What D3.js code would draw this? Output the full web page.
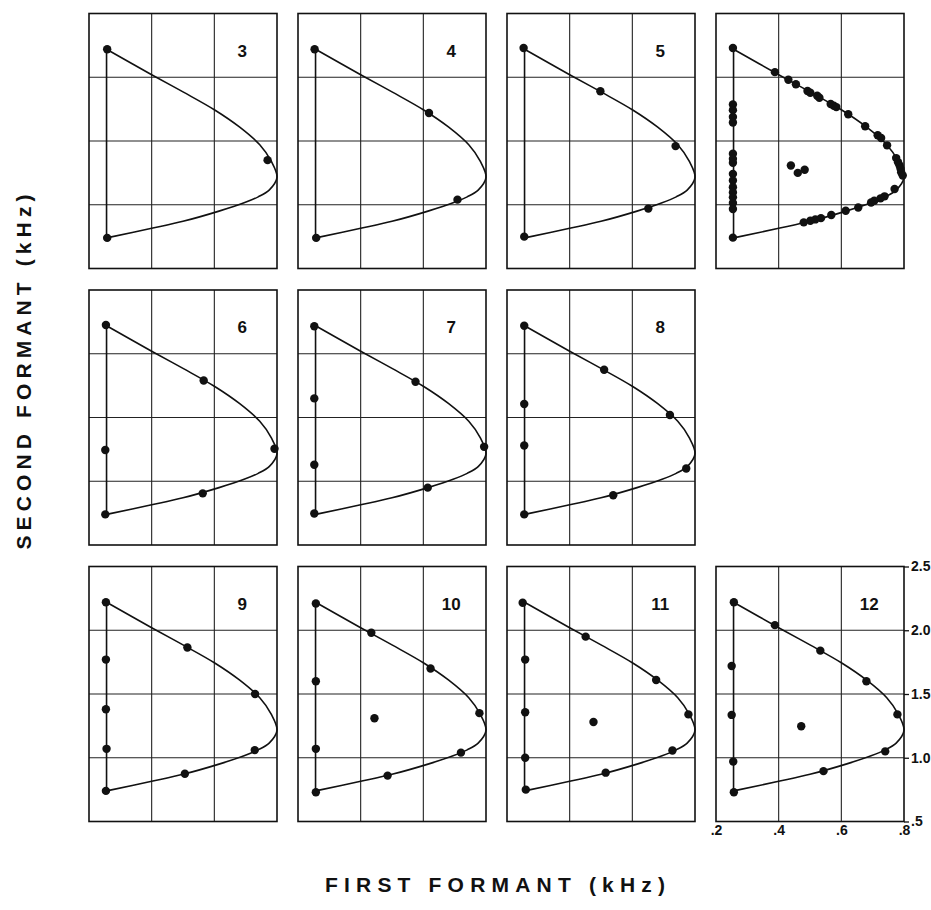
<!DOCTYPE html>
<html>
<head>
<meta charset="utf-8">
<script src="https://cdn.jsdelivr.net/npm/d3@7"></script>
<style>
body { margin: 0; background: #fff; }
svg text { font-family: "Liberation Sans", Arial, sans-serif; font-weight: bold; fill: #111; }
</style>
</head>
<body>
<div id="chart"></div>
<script>
// page and panel layout
var Width = 931, Height = 910;
var Panel = {left: 89, top: 13.5, width: 188, height: 255, stepX: 209, stepY: 276.5};

// axes (kHz)
var f1Ticks = [0.2, 0.4, 0.6, 0.8];
var f2Ticks = [0.5, 1.0, 1.5, 2.0, 2.5];
var f1Labels = [".2", ".4", ".6", ".8"];
var f2Labels = [".5", "1.0", "1.5", "2.0", "2.5"];

// vowel envelope: from the top corner round the tip to the bottom corner
var envelopeF1 = [0.256, 0.40, 0.50, 0.60, 0.68, 0.745, 0.782, 0.800, 0.775, 0.740, 0.695, 0.615, 0.50, 0.40, 0.256];
var envelopeF2 = [2.22, 2.02, 1.885, 1.745, 1.61, 1.47, 1.34, 1.215, 1.115, 1.062, 1.015, 0.95, 0.87, 0.815, 0.74];

// panels, left to right then top to bottom ("" = the unnumbered one)
var panelLabels = ["3", "4", "5", "", "6", "7", "8", "9", "10", "11", "12"];
var panelCols = [0, 1, 2, 3, 0, 1, 2, 0, 1, 2, 3];
var panelRows = [0, 0, 0, 0, 1, 1, 1, 2, 2, 2, 2];

// vowel points [F1, F2] per panel
var vowels3 = [[0.258, 2.22], [0.77, 1.35], [0.258, 0.74]];
var vowels4 = [[0.253, 2.22], [0.618, 1.72], [0.709, 1.04], [0.258, 0.74]];
var vowels5 = [[0.253, 2.23], [0.498, 1.89], [0.738, 1.46], [0.651, 0.97], [0.255, 0.75]];
var vowelsAll = [
  [0.254, 2.23], [0.388, 2.04], [0.431, 1.98], [0.455, 1.945], [0.492, 1.892], [0.501, 1.879],
  [0.523, 1.855], [0.530, 1.839], [0.566, 1.79], [0.576, 1.776], [0.584, 1.766], [0.622, 1.71],
  [0.676, 1.616], [0.716, 1.545], [0.727, 1.524], [0.746, 1.466], [0.775, 1.366], [0.781, 1.334],
  [0.786, 1.308], [0.789, 1.282], [0.791, 1.255], [0.796, 1.23],
  [0.770, 1.124], [0.738, 1.066], [0.725, 1.05], [0.705, 1.032], [0.695, 1.018], [0.654, 0.979],
  [0.614, 0.953], [0.568, 0.92], [0.535, 0.895], [0.517, 0.885], [0.501, 0.874], [0.480, 0.862],
  [0.254, 1.787], [0.254, 1.742], [0.254, 1.689], [0.254, 1.645], [0.254, 1.40], [0.254, 1.36],
  [0.254, 1.329], [0.254, 1.242], [0.254, 1.19], [0.254, 1.137], [0.254, 1.097], [0.254, 1.058],
  [0.254, 1.013], [0.254, 0.966],
  [0.439, 1.308], [0.461, 1.25], [0.483, 1.274],
  [0.254, 0.742]
];
var vowels6 = [[0.254, 2.226], [0.566, 1.79], [0.792, 1.255], [0.563, 0.905], [0.252, 1.245], [0.252, 0.74]];
var vowels7 = [[0.252, 2.216], [0.575, 1.78], [0.794, 1.27], [0.614, 0.95], [0.252, 1.65], [0.252, 1.13], [0.252, 0.747]];
var vowels8 = [[0.255, 2.22], [0.51, 1.875], [0.72, 1.52], [0.772, 1.10], [0.539, 0.89], [0.255, 1.606], [0.255, 1.28], [0.255, 0.74]];
var vowels9 = [[0.254, 2.22], [0.514, 1.865], [0.73, 1.50], [0.729, 1.06], [0.506, 0.875], [0.254, 1.77], [0.254, 1.38], [0.256, 1.07], [0.254, 0.74]];
var vowels10 = [[0.257, 2.21], [0.434, 1.98], [0.623, 1.70], [0.779, 1.35], [0.72, 1.04], [0.486, 0.86], [0.257, 1.60], [0.257, 1.07], [0.444, 1.31], [0.257, 0.73]];
var vowels11 = [[0.25, 2.216], [0.451, 1.95], [0.676, 1.61], [0.779, 1.34], [0.728, 1.057], [0.515, 0.883], [0.258, 1.77], [0.258, 1.357], [0.258, 1.0], [0.476, 1.28], [0.26, 0.75]];
var vowels12 = [[0.257, 2.22], [0.388, 2.04], [0.533, 1.84], [0.68, 1.60], [0.779, 1.34], [0.74, 1.05], [0.543, 0.895], [0.25, 1.72], [0.25, 1.336], [0.255, 0.97], [0.472, 1.247], [0.257, 0.73]];

var panelPoints = [vowels3, vowels4, vowels5, vowelsAll, vowels6, vowels7, vowels8, vowels9, vowels10, vowels11, vowels12];

var svg = d3.select("#chart")
  .append("svg")
  .attr("width", Width)
  .attr("height", Height);

var xScale = d3.scaleLinear().domain([0.2, 0.8]).range([0, Panel.width]);
var yScale = d3.scaleLinear().domain([0.5, 2.5]).range([Panel.height, 0]);

var envelope = envelopeF1.map(function(f1, i) { return [f1, envelopeF2[i]]; });
var envelopeLine = d3.line()
  .x(function(d) { return xScale(d[0]); })
  .y(function(d) { return yScale(d[1]); })
  .curve(d3.curveCatmullRom.alpha(0.5));

var panels = panelLabels.map(function(label, i) {
  return {label: label, col: panelCols[i], row: panelRows[i], points: panelPoints[i]};
});

var panelG = svg.selectAll("g.panel")
  .data(panels)
  .enter()
  .append("g")
  .attr("class", "panel")
  .attr("transform", function(d) {
    return "translate(" + (Panel.left + d.col * Panel.stepX) + "," + (Panel.top + d.row * Panel.stepY) + ")";
  });

// grid
panelG.each(function() {
  var g = d3.select(this);
  g.selectAll("line.gx")
    .data(f1Ticks.slice(1, -1))
    .enter().append("line")
    .attr("x1", xScale).attr("x2", xScale)
    .attr("y1", 0).attr("y2", Panel.height)
    .attr("stroke", "#222").attr("stroke-width", 1.1);
  g.selectAll("line.gy")
    .data(f2Ticks.slice(1, -1))
    .enter().append("line")
    .attr("y1", yScale).attr("y2", yScale)
    .attr("x1", 0).attr("x2", Panel.width)
    .attr("stroke", "#222").attr("stroke-width", 1.1);
});

panelG.append("rect")
  .attr("width", Panel.width)
  .attr("height", Panel.height)
  .attr("fill", "none")
  .attr("stroke", "#111")
  .attr("stroke-width", 1.6);

// envelope, closed by the straight back edge
panelG.append("path")
  .attr("d", envelopeLine(envelope) + "Z")
  .attr("fill", "none")
  .attr("stroke", "#111")
  .attr("stroke-width", 1.6);

panelG.selectAll("circle")
  .data(function(d) { return d.points; })
  .enter()
  .append("circle")
  .attr("cx", function(p) { return xScale(p[0]); })
  .attr("cy", function(p) { return yScale(p[1]); })
  .attr("r", 4.2)
  .attr("fill", "#111");

panelG.append("text")
  .attr("x", Panel.width * 0.815)
  .attr("y", 43)
  .attr("text-anchor", "middle")
  .style("font-size", "17px")
  .text(function(d) { return d.label; });

// tick labels only on the last panel
var last = panelG.filter(function(d) { return d.label === "12"; });

function styleTicks(g) {
  g.select(".domain").remove();
  g.selectAll("line").attr("stroke", "#111").attr("stroke-width", 1.3);
  g.selectAll("text")
    .attr("fill", "#111")
    .style("font-size", "14px")
    .style("font-weight", "bold")
    .style("font-family", "\"Liberation Sans\", Arial, sans-serif");
}

last.append("g")
  .attr("transform", "translate(" + Panel.width + ",0)")
  .call(d3.axisRight(yScale).tickValues(f2Ticks)
    .tickFormat(function(d, i) { return f2Labels[i]; })
    .tickSize(5).tickPadding(2))
  .call(styleTicks);

last.append("g")
  .attr("transform", "translate(0," + Panel.height + ")")
  .call(d3.axisBottom(xScale).tickValues(f1Ticks)
    .tickFormat(function(d, i) { return f1Labels[i]; })
    .tickSize(0).tickPadding(4))
  .call(styleTicks);

// axis titles
svg.append("text")
  .attr("transform", "translate(31,372) rotate(-90)")
  .attr("text-anchor", "middle")
  .attr("textLength", 355)
  .attr("lengthAdjust", "spacing")
  .style("font-size", "21px")
  .text("SECOND  FORMANT  (kHz)");

svg.append("text")
  .attr("x", 495)
  .attr("y", 892)
  .attr("text-anchor", "middle")
  .attr("textLength", 340)
  .attr("lengthAdjust", "spacing")
  .style("font-size", "21px")
  .text("FIRST  FORMANT  (kHz)");
</script>
</body>
</html>
